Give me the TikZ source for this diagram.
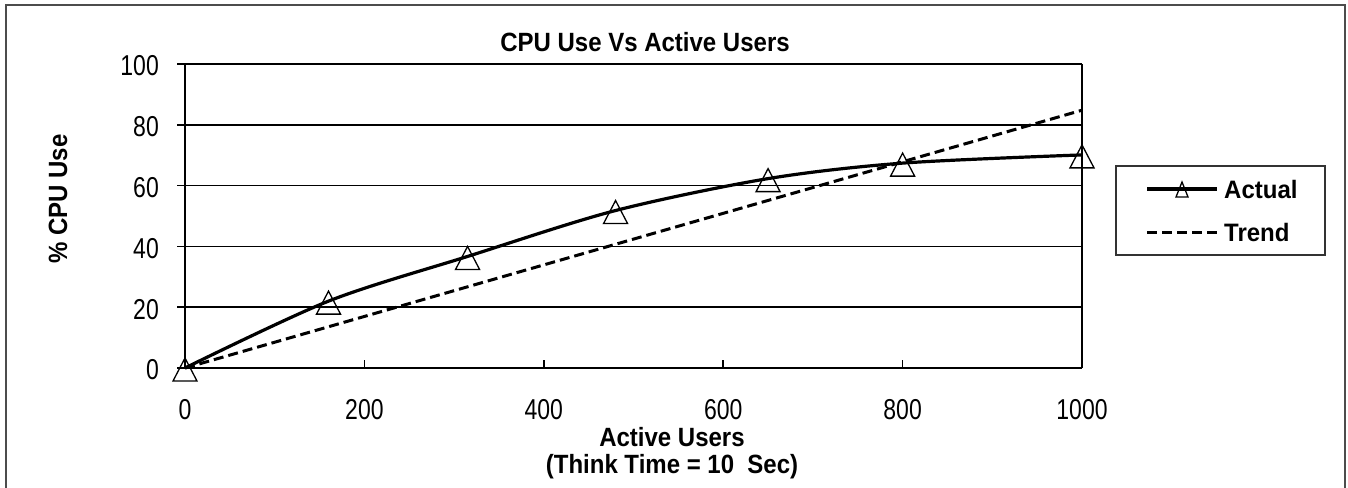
\documentclass[tikz,border=0pt]{standalone}
\usepackage{fontspec}
\setmainfont{Liberation Sans}
\usepackage{graphicx}
\usetikzlibrary{calc}
\newcommand\tickfont{\fontsize{23}{23}\selectfont}
\newcommand\labfont{\fontsize{24}{24}\selectfont\bfseries}
\newcommand\vstretch[2]{\scalebox{1}[#1]{#2}}
\begin{document}
\begin{tikzpicture}[x=1pt,y=-1pt,
  frame/.style={draw=black!70, line width=2.5pt},
  gridline/.style={draw=black, line width=1.6pt},
  tick/.style={font=\tickfont, inner sep=0pt},
  lab/.style={font=\labfont, inner sep=0pt},
  actual/.style={draw=black, line width=3.2pt, line join=round},
  trend/.style={draw=black, line width=3pt, dash pattern=on 10pt off 5pt},
  mk/.style={draw=black, line width=1.3pt, line join=miter},
  tri/.pic={\draw[mk] (-12pt,-13pt) -- (12pt,-13pt) -- (0pt,10pt) -- cycle;},
  smalltri/.pic={\draw[mk] (-6pt,-8pt) -- (6pt,-8pt) -- (0pt,7pt) -- cycle;}
]
\useasboundingbox (0,0) rectangle (1348,487);
% outer frame
\draw[frame] (6,490) -- (6,5) -- (1345,5) -- (1345,490);

% plot area corners
\coordinate (o) at (185,368);
\coordinate (tl) at (185,64);
\coordinate (tr) at (1082,64);
\coordinate (br) at (1082,368);
\coordinate (bl) at (177,368);

% gridlines and y ticks
\foreach \k in {1,...,5}{
  \coordinate (g\k) at (177,{368-60.8*\k});
  \coordinate (h\k) at (1082,{368-60.8*\k});
  \draw[gridline] (g\k) -- (h\k);
}
% axes
\draw[gridline] (tl) -- (o);
\draw[gridline] (tr) -- (br);
\draw[gridline] (bl) -- (br);
% x ticks
\foreach \k in {1,...,4}{
  \coordinate (xa\k) at ({185+179.4*\k},368);
  \coordinate (xb\k) at ({185+179.4*\k},360);
  \draw[gridline] (xa\k) -- (xb\k);
}

% y tick labels
\foreach \v [count=\k from 0] in {0,20,40,60,80,100}{
  \node[tick, anchor=east] (yl\k) at (159,{368-60.8*\k+2}) {\vstretch{1.25}{\v}};
}
% x tick labels
\foreach \v [count=\k from 0] in {0,200,400,600,800,1000}{
  \node[tick] (xl\k) at ({185+179.4*\k},410) {\vstretch{1.25}{\v}};
}

% titles
\node[lab] (title) at (645,42) {\vstretch{1.1}{CPU Use Vs Active Users}};
\node[lab, rotate=90] (ylab) at (58,199) {\vstretch{1.1}{\% CPU Use}};
\node[lab] (xlab1) at (672,437) {\vstretch{1.1}{Active Users}};
\node[lab] (xlab2) at (672,467) {\vstretch{1.1}{(Think Time = 10\ \ Sec)}};

% data
\begin{scope}[shift={(185,368)}, x=0.897pt, y=3.04pt]
  \coordinate (p0) at (0,0);
  \coordinate (p1) at (160,22.0);
  \coordinate (p2) at (315,36.7);
  \coordinate (p3) at (480,51.8);
  \coordinate (p4) at (650,62.3);
  \coordinate (p5) at (800,67.4);
  \coordinate (p6) at (1000,70.1);
  \coordinate (t1) at (1000,84.8);
\end{scope}
\draw[trend] (p0) -- (t1);
\draw[actual] plot[smooth, tension=0.5] coordinates {(p0) (p1) (p2) (p3) (p4) (p5) (p6)};
\foreach \i in {0,...,6}{ \path (p\i) pic{tri}; }

% legend
\node[draw=black!80, line width=2pt, minimum width=209pt, minimum height=89pt, inner sep=0pt] (legend) at (1220.5,210.5) {};
\coordinate (la1) at (1147,189);
\coordinate (la2) at (1217,189);
\coordinate (lam) at (1182,189);
\coordinate (lt1) at (1147,232);
\coordinate (lt2) at (1217,232);
\draw[actual] (la1) -- (la2);
\path (lam) pic{smalltri};
\draw[trend] (lt1) -- (lt2);
\node[lab, anchor=west] (lactual) at (1224,189) {\vstretch{1.05}{Actual}};
\node[lab, anchor=west] (ltrend) at (1224,232) {\vstretch{1.05}{Trend}};
\end{tikzpicture}
\end{document}
